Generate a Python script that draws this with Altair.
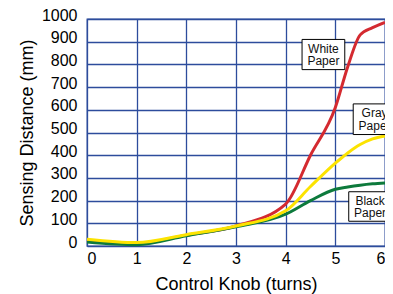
import altair as alt
import pandas as pd

# Data
turns = [0, 1, 2, 3, 4, 4.5, 5, 5.25, 5.5, 5.75, 6]
white_paper = [25, 10, 48, 88, 185, 400, 610, 790, 930, 962, 985]
gray_paper = [30, 15, 50, 88, 155, 262, 365, 410, 447, 472, 485]
black_paper = [18, 6, 45, 85, 140, 200, 250, 260, 268, 274, 278]

series_names = ["White Paper", "Black Paper", "Gray Paper"]
series_colors = ["#d42a30", "#0d7a3c", "#fce300"]

# tick values
x_ticks = [0, 1, 2, 3, 4, 5, 6]
y_ticks = [0, 100, 200, 300, 400, 500, 600, 700, 800, 900, 1000]

# annotation boxes (data units)
box_labels = ["White\nPaper", "Gray\nPaper", "Black\nPaper"]
box_x = [4.33, 5.36, 5.27]
box_x2 = [5.19, 6.22, 6.13]
box_y = [910, 626, 239]
box_y2 = [777, 491, 109]

rows = []
for name, vals in zip(series_names, [white_paper, black_paper, gray_paper]):
    for t, v in zip(turns, vals):
        rows.append({"turns": t, "mm": v, "series": name})
df = pd.DataFrame(rows)

boxes = pd.DataFrame({
    "label": box_labels, "x": box_x, "x2": box_x2, "y": box_y, "y2": box_y2,
    "cx": [(a + b) / 2 for a, b in zip(box_x, box_x2)],
    "cy": [(a + b) / 2 for a, b in zip(box_y, box_y2)],
})

grid_col = "#2d4c9c"
FONT = "Liberation Sans"

xscale = alt.Scale(domain=[0, 6], nice=False)
yscale = alt.Scale(domain=[0, 1000], nice=False)

xaxis = alt.Axis(title="Control Knob (turns)", values=x_ticks, format="d",
                 labelPadding=4, titlePadding=9, labelOverlap=False)
yaxis = alt.Axis(title="Sensing Distance (mm)", values=y_ticks, format="d",
                 labelOverlap=False, labelPadding=10, labelOffset=-4, titlePadding=5)

lines = alt.Chart(df).mark_line(strokeWidth=3, interpolate="monotone").encode(
    x=alt.X("turns:Q", scale=xscale, axis=xaxis),
    y=alt.Y("mm:Q", scale=yscale, axis=yaxis),
    color=alt.Color("series:N", scale=alt.Scale(domain=series_names, range=series_colors),
                    legend=None),
    order=alt.Order("order:Q"),
).transform_calculate(
    order="indexof(['White Paper','Black Paper','Gray Paper'], datum.series)"
)

rects = alt.Chart(boxes).mark_rect(fill="white", stroke="black", strokeWidth=1, clip=True).encode(
    x=alt.X("x:Q", scale=xscale, axis=xaxis), x2="x2:Q",
    y=alt.Y("y:Q", scale=yscale, axis=yaxis), y2="y2:Q",
)

texts = alt.Chart(boxes).mark_text(font=FONT, fontSize=12, color="#111", baseline="middle",
                                   lineBreak="\n", lineHeight=12.5, dy=-6, clip=True).encode(
    x=alt.X("cx:Q", scale=xscale, axis=xaxis), y=alt.Y("cy:Q", scale=yscale, axis=yaxis),
    text="label:N")

chart = alt.layer(lines, rects, texts).properties(
    width=298, height=227,
    autosize=alt.AutoSizeParams(type="none"),
    padding={"left": 79, "top": 11, "right": 0, "bottom": 48},
).configure_view(
    stroke=grid_col, strokeWidth=1.3
).configure_axis(
    grid=True, gridColor=grid_col, gridWidth=1.3, gridOpacity=1,
    domain=False, ticks=False,
    labelFont=FONT, labelFontSize=16, labelColor="#000",
    titleFont=FONT, titleFontSize=18, titleFontWeight="normal", titleColor="#000",
)

chart.save("out.html", embed_options={"renderer": "svg", "actions": False})
